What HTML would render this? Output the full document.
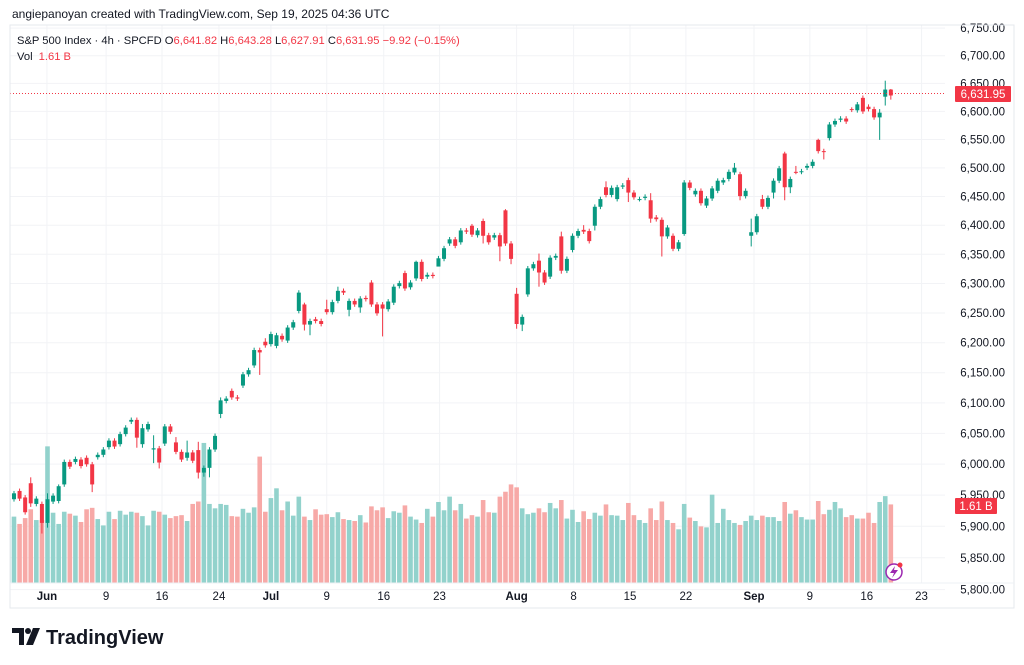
<!DOCTYPE html>
<html><head><meta charset="utf-8"><style>
html,body{margin:0;padding:0;background:#fff;width:1024px;height:665px;overflow:hidden}
svg{display:block}
text{font-family:"Liberation Sans",sans-serif}
</style></head><body>
<svg id="chart" width="1024" height="665" viewBox="0 0 1024 665" xmlns="http://www.w3.org/2000/svg">
<defs><clipPath id="pane"><rect x="10" y="25" width="935" height="558"/></clipPath></defs>
<rect x="0" y="0" width="1024" height="665" fill="#fff"/>
<g id="grid"></g>
<g clip-path="url(#pane)">
<g id="vol"></g>
<g id="candles"></g>
</g>
<line x1="10" y1="93.5" x2="945" y2="93.5" stroke="#f23645" stroke-width="1" stroke-dasharray="1,2"/>
<g id="yaxis"></g>
<g id="xaxis"></g>
<rect x="10" y="25" width="1004" height="583" fill="none" stroke="#e6e8ee" stroke-width="1"/>
<line x1="10" y1="583" x2="1014" y2="583" stroke="#eef0f4"/>
<text x="12" y="18" font-size="12" fill="#131722">angiepanoyan created with TradingView.com, Sep 19, 2025 04:36 UTC</text>
<text x="17" y="44" font-size="11.2" fill="#131722">S&amp;P 500 Index · 4h · SPCFD <tspan>O</tspan><tspan fill="#f23645">6,641.82</tspan> <tspan>H</tspan><tspan fill="#f23645">6,643.28</tspan> <tspan>L</tspan><tspan fill="#f23645">6,627.91</tspan> <tspan>C</tspan><tspan fill="#f23645">6,631.95</tspan> <tspan fill="#f23645">−9.92 (−0.15%)</tspan></text>
<text x="17" y="60" font-size="11.2" fill="#131722">Vol <tspan fill="#f23645" dx="3">1.61 B</tspan></text>
<rect x="955" y="86" width="56" height="16" rx="1" fill="#f23645"/>
<text x="983" y="98" font-size="11.5" fill="#fff" text-anchor="middle">6,631.95</text>
<rect x="955" y="498" width="42" height="16" rx="1" fill="#f23645"/>
<text x="976" y="510" font-size="11.5" fill="#fff" text-anchor="middle">1.61 B</text>
<g>
<circle cx="894" cy="572" r="8" fill="#fff" stroke="#9c27b0" stroke-width="1.5"/>
<path d="M895 566 L890 573 L894 573 L892 578 L898 570 L894 570 Z" fill="#9c27b0"/>
<circle cx="900" cy="565" r="2.5" fill="#f23645"/>
</g>
<g>
<path d="M12 628 H24 V645 H19 V633 H12 Z" fill="#131722"/>
<circle cx="28" cy="631" r="3" fill="#131722"/>
<path d="M33 628 H40 L33 645 H26 Z" fill="#131722"/>
<text x="46" y="644" font-size="20" font-weight="bold" fill="#131722">TradingView</text>
</g>
</svg>
<script>
const openP=[5930,5953,5967,5956,5980,5945,5945,5913,5949,5950,5978,6016,6016,6020,6023,6012,6024,6028,6041,6052,6046,6063,6084,6087,6046,6071,6037,6039,6047,6076,6049,6033,6023,6032,6036,5998,6006,6037,6097,6119,6136,6125,6145,6164,6179,6205,6219,6215,6212,6229,6221,6243,6271,6282,6248,6257,6254,6274,6269,6288,6305,6273,6288,6277,6293,6319,6282,6282,6274,6285,6313,6335,6311,6326,6354,6329,6332,6346,6359,6385,6392,6387,6407,6415,6399,6423,6399,6395,6399,6441,6385,6300,6248,6299,6343,6356,6336,6329,6361,6397,6339,6374,6398,6408,6406,6415,6447,6480,6467,6460,6481,6492,6471,6460,6462,6458,6429,6425,6397,6398,6376,6401,6488,6468,6474,6449,6461,6474,6488,6494,6505,6502,6465,6398,6404,6460,6447,6471,6491,6537,6480,6506,6506,6513,6516,6560,6541,6563,6586,6594,6596,6612,6610,6631,6616,6612,6598,6633,6645];
const closeP=[5950,5963,5954,5931,5946,5954,5913,5953,5959,5975,6016,6008,6021,6009,6012,5978,6028,6037,6052,6042,6063,6074,6087,6057,6073,6080,6039,6015,6076,6067,6033,6020,6032,6018,5998,6006,6037,6060,6120,6123,6125,6123,6164,6171,6205,6201,6213,6232,6230,6223,6243,6252,6302,6248,6254,6254,6249,6269,6286,6305,6302,6288,6282,6292,6291,6282,6267,6275,6287,6312,6318,6309,6319,6354,6325,6332,6330,6360,6377,6392,6381,6407,6405,6400,6407,6398,6387,6399,6380,6385,6359,6249,6261,6343,6350,6336,6319,6361,6364,6339,6359,6398,6406,6405,6389,6447,6460,6467,6479,6480,6483,6471,6463,6460,6464,6427,6426,6397,6412,6376,6387,6488,6479,6474,6453,6461,6478,6491,6492,6506,6513,6465,6474,6404,6431,6447,6462,6491,6512,6480,6494,6505,6507,6516,6523,6541,6540,6586,6592,6596,6591,6611,6620,6608,6612,6598,6606,6645,6635];
const highP=[5957,5967,5971,5960,5990,5958,5949,5963,5963,5978,6020,6020,6025,6024,6027,6016,6032,6041,6056,6056,6067,6078,6091,6091,6080,6084,6061,6043,6080,6080,6058,6037,6052,6036,6050,6010,6041,6064,6125,6127,6140,6129,6168,6175,6209,6209,6225,6236,6234,6233,6247,6256,6306,6285,6258,6261,6258,6290,6290,6312,6309,6292,6292,6296,6297,6323,6286,6286,6291,6316,6322,6339,6323,6356,6358,6336,6336,6364,6381,6396,6396,6411,6411,6418,6411,6427,6403,6403,6403,6443,6389,6310,6265,6347,6354,6368,6340,6365,6368,6405,6363,6402,6410,6416,6410,6451,6464,6490,6483,6484,6487,6496,6475,6464,6468,6470,6433,6429,6416,6402,6391,6492,6492,6478,6478,6465,6482,6495,6496,6510,6521,6506,6478,6427,6435,6467,6466,6495,6516,6540,6498,6516,6511,6520,6527,6562,6545,6590,6596,6600,6600,6615,6624,6635,6620,6616,6612,6660,6646];
const lowP=[5898,5949,5950,5927,5940,5941,5895,5905,5945,5946,5974,6004,6012,6005,6008,5965,6020,6024,6037,6038,6042,6059,6080,6040,6040,6067,6014,6005,6043,6063,6029,6016,6018,6014,5988,5991,5990,6033,6090,6115,6121,6119,6141,6160,6175,6163,6209,6211,6208,6219,6217,6239,6267,6238,6230,6250,6245,6265,6265,6284,6298,6262,6278,6268,6287,6278,6263,6228,6270,6281,6309,6305,6307,6322,6321,6325,6326,6352,6355,6381,6377,6383,6401,6396,6395,6385,6383,6391,6355,6381,6350,6241,6237,6295,6339,6312,6315,6325,6357,6334,6335,6370,6394,6401,6385,6407,6443,6463,6463,6456,6477,6455,6459,6456,6458,6420,6422,6363,6393,6372,6372,6398,6475,6464,6449,6445,6457,6470,6484,6490,6501,6458,6461,6380,6400,6443,6443,6461,6487,6458,6470,6502,6502,6509,6512,6537,6527,6559,6582,6590,6587,6607,6606,6604,6608,6594,6560,6618,6628];
const volB=[1.72,1.35,1.20,1.32,1.50,1.28,1.28,2.79,1.43,1.20,1.45,1.41,1.37,1.24,1.50,1.53,1.30,1.17,1.45,1.30,1.47,1.39,1.45,1.43,1.36,1.17,1.47,1.45,1.39,1.32,1.36,1.38,1.26,1.61,1.66,2.86,1.61,1.52,1.61,1.59,1.36,1.35,1.51,1.43,1.54,2.58,1.45,1.73,1.93,1.48,1.66,1.37,1.76,1.35,1.28,1.50,1.39,1.40,1.34,1.44,1.30,1.28,1.26,1.38,1.23,1.56,1.48,1.54,1.32,1.46,1.43,1.58,1.35,1.29,1.22,1.51,1.35,1.65,1.48,1.76,1.48,1.61,1.31,1.38,1.35,1.69,1.44,1.43,1.76,1.86,2.01,1.95,1.52,1.40,1.43,1.52,1.44,1.63,1.52,1.69,1.31,1.49,1.24,1.46,1.30,1.43,1.37,1.60,1.38,1.37,1.28,1.63,1.38,1.28,1.22,1.52,1.28,1.66,1.28,1.22,1.09,1.61,1.33,1.26,1.15,1.13,1.80,1.22,1.51,1.28,1.22,1.18,1.26,1.37,1.28,1.37,1.34,1.34,1.26,1.65,1.41,1.48,1.34,1.29,1.29,1.67,1.40,1.49,1.65,1.52,1.34,1.38,1.31,1.31,1.43,1.22,1.65,1.77,1.60];
const priceTicks=[6750,6700,6650,6600,6550,6500,6450,6400,6350,6300,6250,6200,6150,6100,6050,6000,5950,5900,5850,5800];
const timeLabels=["Jun","9","16","24","Jul","9","16","23","Aug","8","15","22","Sep","9","16","23"];
const timeBarIdx=[6.9,17.5,27.5,37.7,47,57,67.2,77.2,91,101.2,111.3,121.3,133.5,143.5,153.7,163.5];
const boldLabels=["Jun","Jul","Aug","Sep"];

const NS="http://www.w3.org/2000/svg";
const X0=8.4, DX=5.585;
function xOf(i){return X0+i*DX;}
function yOf(p){return 57+(6700-p)*0.592;}
function yTick(p){return 55.7+3701*Math.log(6700/p);}
function yVol(v){return 582.5-v*48.8;}
function mk(tag,attrs,parent){const e=document.createElementNS(NS,tag);for(const k in attrs)e.setAttribute(k,attrs[k]);parent.appendChild(e);return e;}

const grid=document.getElementById('grid'),yaxis=document.getElementById('yaxis'),xaxis=document.getElementById('xaxis');
const vol=document.getElementById('vol'),cg=document.getElementById('candles');

priceTicks.forEach(p=>{
  const y=yTick(p);
  const l=mk('line',{x1:10,x2:945,y1:y,y2:y,stroke:'#f2f3f6','stroke-width':1},grid);
  
  
  const t=mk('text',{x:1005,y:y+4,'font-size':11.5,fill:'#131722','text-anchor':'end'},yaxis);
  t.textContent=p.toLocaleString('en-US',{minimumFractionDigits:2});
  
  
});
timeLabels.forEach((s,k)=>{
  const x=xOf(timeBarIdx[k]);
  const l=mk('line',{x1:x,x2:x,y1:25,y2:583,stroke:'#f2f3f6','stroke-width':1},grid);
  
  
  const t=mk('text',{x:x,y:600,'font-size':11.5,fill:'#131722','text-anchor':'middle','font-weight':boldLabels.includes(s)?'bold':'normal'},xaxis);
  t.textContent=s;
  
  
});
volB.forEach((v,i)=>{
  const up=closeP[i]>=openP[i];
  const y=yVol(v);
  const r=mk('rect',{x:xOf(i)-2.3,y:y,width:4.6,height:582.5-y,fill:up?'#92d2cc':'#f7a9a7'},vol);
  
  
});
openP.forEach((o,i)=>{
  const c=closeP[i],up=c>=o,col=up?'#089981':'#f23645',x=xOf(i);
  const g=mk('g',{},cg);
  
  
  mk('line',{x1:x,x2:x,y1:yOf(highP[i]),y2:yOf(lowP[i]),stroke:col,'stroke-width':1},g);
  const yt=yOf(Math.max(o,c)),yb=yOf(Math.min(o,c));
  mk('rect',{x:x-2,y:yt,width:4,height:Math.max(1,yb-yt),fill:col},g);
});
</script>
</body></html>
